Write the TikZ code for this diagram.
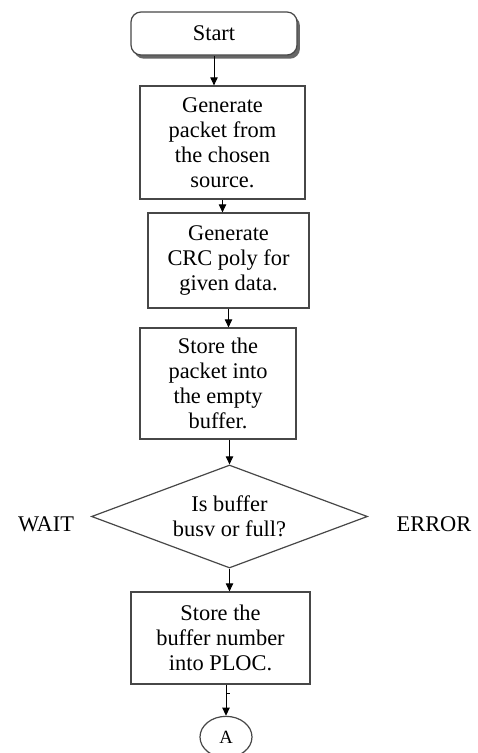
\documentclass[tikz,border=0pt]{standalone}
\usepackage{fontspec}
\setmainfont{Liberation Serif}
\usetikzlibrary{arrows.meta,shapes.geometric,shadows}
\begin{document}
\begin{tikzpicture}[x=0.75pt,y=-0.75pt,
  every node/.style={font=\fontsize{16.8}{18.75}\selectfont, inner sep=0pt, align=center},
  box/.style={draw=black!72, line width=0.9pt, fill=white},
  conn/.style={draw=black, line width=0.7pt, -{Triangle[length=6pt,width=5.5pt]}},
  lbl/.style={font=\fontsize{16.8}{18.75}\selectfont}]
\useasboundingbox (0,0) rectangle (478,753);
\fill[white] (0,0) rectangle (478,753);

\node[box, rounded corners=7.5pt, minimum width=124.5pt, minimum height=32.25pt,
      drop shadow={shadow xshift=2.2pt, shadow yshift=-2.8pt, fill=black!60, opacity=1}]
      (start) at (214,33.5) {Start};
\node[box, minimum width=123.75pt, minimum height=84.75pt] (b1) at (222.5,142.5)
      {Generate\\packet from\\the chosen\\source.};
\node[box, minimum width=120.75pt, minimum height=71.25pt] (b2) at (228.5,260.5)
      {Generate\\CRC poly for\\given data.};
\node[box, minimum width=117pt, minimum height=83.25pt] (b3) at (218,383.5)
      {Store the\\packet into\\the empty\\buffer.};
\node[box, diamond, aspect=2.68, minimum width=207pt, minimum height=77.25pt] (dia) at (229.5,516.5)
      {Is buffer\\busv or full?};
\node[box, minimum width=134.25pt, minimum height=69pt] (b4) at (220.5,638)
      {Store the\\buffer number\\into PLOC.};
\node[box, ellipse, minimum width=39pt, minimum height=31pt,
      font=\fontsize{14}{16}\selectfont] (A) at (226,737) {A};

\node[lbl] (wait) at (46,524) {WAIT};
\node[lbl] (error) at (434,524) {ERROR};

\draw[conn] (start.south) -- (start.south |- b1.north);
\draw[conn] (b1.south) -- (b1.south |- b2.north);
\draw[conn] (b2.south) -- (b2.south |- b3.north);
\draw[conn] (b3.south -| dia.north) -- (dia.north);
\draw[conn] (dia.south) -- (dia.south |- b4.north);
\draw[conn] (b4.south -| A.north) -- (A.north);
\coordinate (tick) at (226,693);
\draw[line width=0.7pt] (tick) -- ++(4,0);
\end{tikzpicture}
\end{document}
